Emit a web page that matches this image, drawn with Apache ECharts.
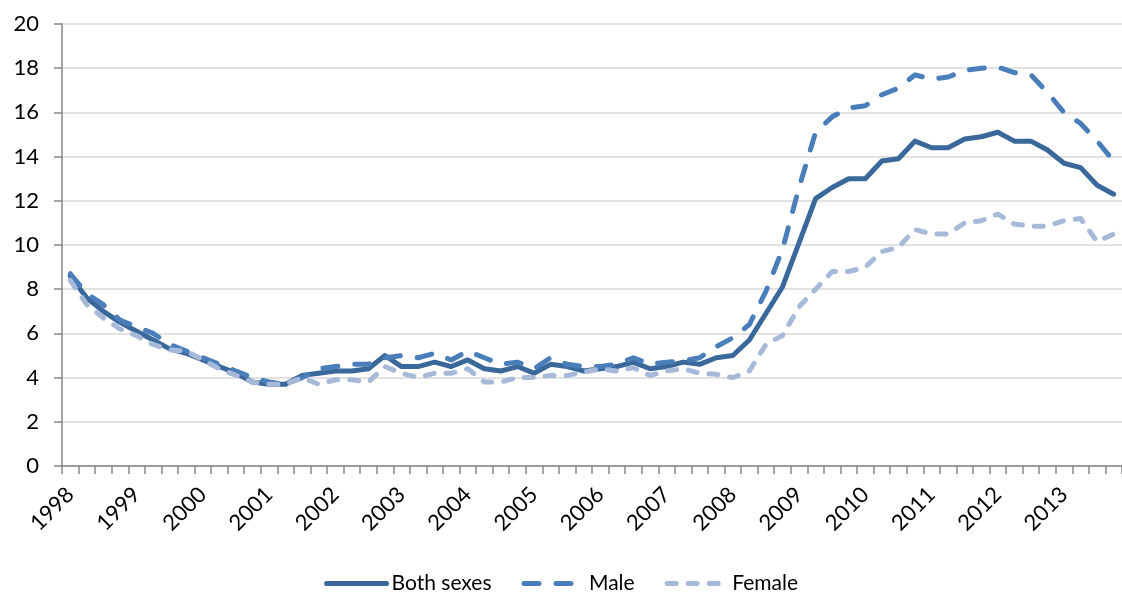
<!DOCTYPE html>
<html>
<head>
<meta charset="utf-8">
<script src="https://cdn.jsdelivr.net/npm/echarts@6/dist/echarts.min.js"></script>
<style>
  html, body { margin: 0; padding: 0; background: #fff; }
  #chart { width: 1122px; height: 593px; }
</style>
</head>
<body>
<div id="chart"></div>
<script>
// quarters 1998Q1 .. 2013Q4, label shown on the first quarter of each year
var years = ['1998', '1999', '2000', '2001', '2002', '2003', '2004', '2005',
             '2006', '2007', '2008', '2009', '2010', '2011', '2012', '2013'];
var quarters = [];
for (var y = 0; y < years.length; y++) {
    for (var q = 1; q <= 4; q++) {
        quarters.push(years[y] + ' Q' + q);
    }
}

var bothSexes = [8.6, 7.6, 7.0, 6.5, 6.1, 5.7, 5.3, 5.1, 4.8, 4.5, 4.2, 3.8, 3.7, 3.7, 4.1, 4.2,
                 4.3, 4.3, 4.4, 5.0, 4.5, 4.5, 4.7, 4.5, 4.8, 4.4, 4.3, 4.5, 4.2, 4.6, 4.5, 4.3,
                 4.4, 4.5, 4.7, 4.4, 4.5, 4.7, 4.6, 4.9, 5.0, 5.7, 6.9, 8.1, 10.1, 12.1, 12.6, 13.0,
                 13.0, 13.8, 13.9, 14.7, 14.4, 14.4, 14.8, 14.9, 15.1, 14.7, 14.7, 14.3, 13.7, 13.5, 12.7, 12.3];
var male = [8.7, 7.8, 7.3, 6.6, 6.3, 6.0, 5.5, 5.2, 4.9, 4.6, 4.3, 4.0, 3.8, 3.7, 4.0, 4.4,
            4.5, 4.6, 4.6, 4.9, 5.0, 4.9, 5.1, 4.8, 5.2, 4.9, 4.6, 4.7, 4.4, 4.9, 4.6, 4.5,
            4.5, 4.6, 4.9, 4.6, 4.7, 4.75, 4.9, 5.4, 5.8, 6.4, 7.9, 9.8, 12.6, 15.1, 15.8, 16.2,
            16.3, 16.8, 17.1, 17.7, 17.5, 17.6, 17.9, 18.0, 18.05, 17.8, 17.7, 16.9, 16.0, 15.5, 14.7, 13.8];
var female = [8.4, 7.3, 6.7, 6.2, 5.9, 5.5, 5.25, 5.2, 4.8, 4.4, 4.1, 3.8, 3.7, 3.7, 4.0, 3.7,
              3.9, 3.9, 3.8, 4.5, 4.2, 4.0, 4.2, 4.2, 4.4, 3.8, 3.8, 4.0, 4.0, 4.1, 4.1, 4.25,
              4.4, 4.3, 4.45, 4.1, 4.3, 4.4, 4.2, 4.15, 4.0, 4.3, 5.5, 5.9, 7.2, 8.0, 8.8, 8.8,
              9.0, 9.7, 9.9, 10.7, 10.5, 10.5, 11.0, 11.1, 11.4, 10.95, 10.85, 10.85, 11.1, 11.2, 10.15, 10.5];

var fontFamily = 'Lato';
var axisGray = '#868686';

var chart = echarts.init(document.getElementById('chart'), null, {renderer: 'canvas'});

chart.setOption({
    backgroundColor: '#fff',
    animation: false,
    grid: {
        left: 62,
        right: -7,   // plot area runs past the right edge of the picture
        top: 24,
        bottom: 127
    },
    legend: {
        top: 568,
        left: 'center',
        itemWidth: 60,
        itemHeight: 20,
        itemGap: 30,
        itemStyle: { opacity: 0 },
        lineStyle: { width: 5, cap: 'round' },
        textStyle: { fontFamily: fontFamily, fontSize: 21, color: '#000' },
        data: ['Both sexes', 'Male', 'Female']
    },
    xAxis: {
        type: 'category',
        data: quarters,
        boundaryGap: true,
        axisLine: { lineStyle: { color: axisGray, width: 1.5 } },
        axisTick: { show: true, interval: 0, length: 8, lineStyle: { color: axisGray, width: 1.5 } },
        axisLabel: {
            interval: 3,
            rotate: 45,
            margin: 25,
            fontFamily: fontFamily,
            fontSize: 22,
            color: '#000',
            formatter: function (v) { return v.substring(0, 4); }
        },
        splitLine: { show: false }
    },
    yAxis: {
        type: 'value',
        min: 0,
        max: 20,
        interval: 2,
        axisLine: { show: true, lineStyle: { color: axisGray, width: 1.5 } },
        axisTick: { show: true, length: 8, lineStyle: { color: axisGray, width: 1.5 } },
        axisLabel: { fontFamily: fontFamily, fontSize: 22, color: '#000', margin: 23 },
        splitLine: { lineStyle: { color: '#D9D9D9', width: 1.5 } }
    },
    series: [
        {
            name: 'Both sexes',
            type: 'line',
            data: bothSexes,
            symbol: 'none',
            itemStyle: { color: '#3B689B' },
            lineStyle: { color: '#3B689B', width: 5, cap: 'round', join: 'round' }
        },
        {
            name: 'Male',
            type: 'line',
            data: male,
            symbol: 'none',
            itemStyle: { color: '#4A7EBB' },
            lineStyle: { color: '#4A7EBB', width: 5, type: [15, 17], cap: 'round', join: 'round' }
        },
        {
            name: 'Female',
            type: 'line',
            data: female,
            symbol: 'none',
            itemStyle: { color: '#A7B9D8' },
            lineStyle: { color: '#A7B9D8', width: 5, type: [9, 12], cap: 'round', join: 'round' }
        }
    ]
});
</script>
</body>
</html>
